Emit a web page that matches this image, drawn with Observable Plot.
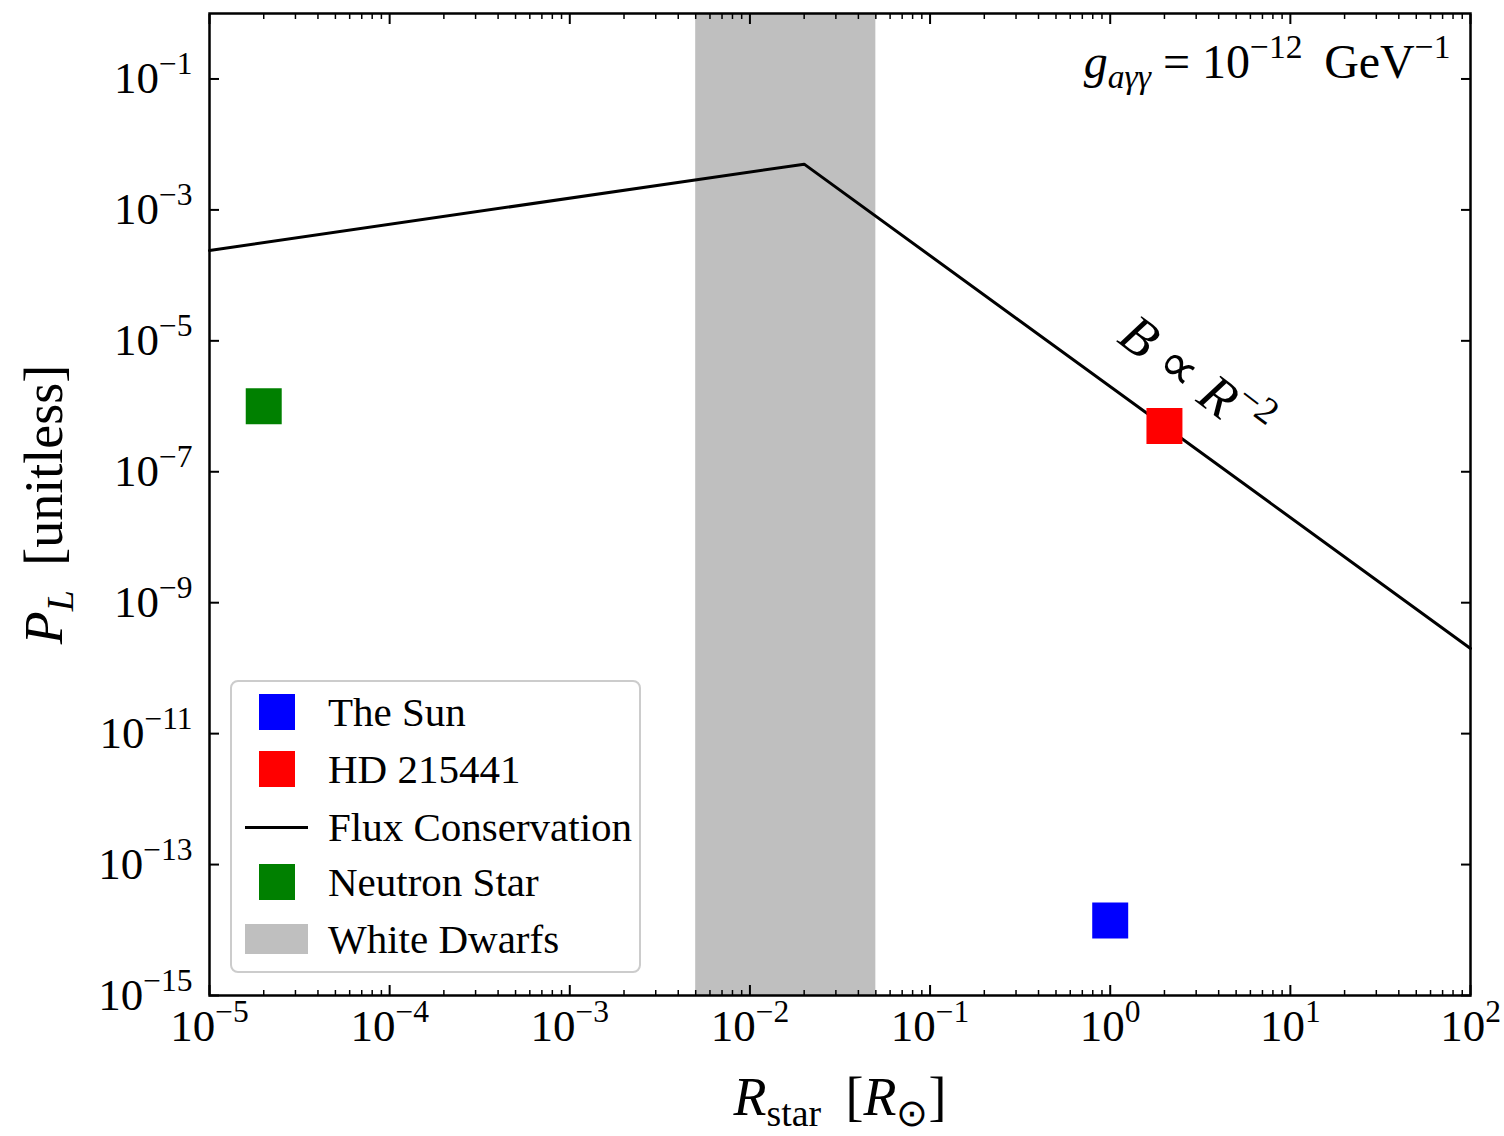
<!DOCTYPE html>
<html>
<head>
<meta charset="utf-8">
<script src="https://cdn.jsdelivr.net/npm/d3@7"></script>
<script src="https://cdn.jsdelivr.net/npm/@observablehq/plot@0.6"></script>
<style>
  body { margin: 0; background: #fff; }
  #wrap { position: relative; width: 1504px; height: 1136px; font-family: "Liberation Serif", serif; }
  #legend { position: absolute; left: 230px; top: 680px; width: 411px; height: 293px; box-sizing: border-box;
            border: 2px solid #cccccc; border-radius: 8px; background: rgba(255,255,255,0.85); }
  .row { position: absolute; left: 0; height: 40px; display: flex; align-items: center; }
  .handle { width: 63px; margin-left: 13px; display: flex; align-items: center; justify-content: center; }
  .lab { margin-left: 20px; font-size: 41px; color: #000; white-space: nowrap; line-height: 1; }
</style>
</head>
<body>
<div id="wrap"></div>
<script>
// ---- data ----
const fluxR = [1e-5, 0.02, 100];
const fluxP = [2.4e-4, 5e-3, 2e-10];
const starNames = ["The Sun", "HD 215441", "Neutron Star"];
const starR = [1, 2, 2e-5];
const starP = [1.4e-14, 5e-7, 1e-6];
const starColors = ["#0000ff", "#ff0000", "#008000"];
const wdRange = [0.005, 0.05];
const wdColor = "#bfbfbf";
const legendNames = ["The Sun", "HD 215441", "Flux Conservation", "Neutron Star", "White Dwarfs"];
const legendKinds = ["square", "square", "line", "square", "band"];
const legendColors = ["#0000ff", "#ff0000", "#000000", "#008000", "#bfbfbf"];
const xMajorExp = [-5, -4, -3, -2, -1, 0, 1, 2];
const yMajorExp = [-1, -3, -5, -7, -9, -11, -13, -15];
const annotR = [2.95];
const annotP = [2.6e-6];

const xMajor = xMajorExp.map(k => 10 ** k);
const xMinor = [];
for (const k of xMajorExp.slice(0, -1)) for (let m = 2; m <= 9; m++) xMinor.push(m * 10 ** k);
const yMajor = yMajorExp.map(k => 10 ** k);
const expo = d => String(Math.round(Math.log10(d)));

const flux = fluxR.map((r, i) => ({r, p: fluxP[i]}));
const stars = starR.map((r, i) => ({r, p: starP[i], c: starColors[i], name: starNames[i]}));

const FS = 45;
const noF = () => "";

const plot = Plot.plot({
  width: 1504, height: 1136,
  marginLeft: 209, marginRight: 34, marginTop: 13, marginBottom: 141,
  style: {fontFamily: "Liberation Serif, serif", background: "#fff", color: "#000"},
  x: {type: "log", domain: [1e-5, 100]},
  y: {type: "log", domain: [1e-15, 1]},
  color: {type: "identity"},
  marks: [
    Plot.rect([wdRange], {x1: d => d[0], x2: d => d[1], fill: wdColor}),
    Plot.line(flux, {x: "r", y: "p", stroke: "#000", strokeWidth: 3}),
    Plot.dot(stars, {x: "r", y: "p", fill: "c", symbol: "square", r: 20.3}),
    Plot.frame({stroke: "#000", strokeWidth: 2.5}),
    Plot.axisX(xMajor, {anchor: "bottom", tickSize: -10, tickFormat: noF, strokeWidth: 2, label: null}),
    Plot.axisX(xMinor, {anchor: "bottom", tickSize: -5, tickFormat: noF, strokeWidth: 1.5, label: null}),
    Plot.axisX(xMajor, {anchor: "top", tickSize: -10, tickFormat: noF, strokeWidth: 2, label: null}),
    Plot.axisX(xMinor, {anchor: "top", tickSize: -5, tickFormat: noF, strokeWidth: 1.5, label: null}),
    Plot.axisY(yMajor, {anchor: "left", tickSize: -10, tickFormat: noF, strokeWidth: 2, label: null}),
    Plot.axisY(yMajor, {anchor: "right", tickSize: -10, tickFormat: noF, strokeWidth: 2, label: null}),
    Plot.axisX(xMajor, {anchor: "bottom", tickSize: 0, tickPadding: 14, tickFormat: expo, fontSize: FS, label: null}),
    Plot.axisY(yMajor, {anchor: "left", tickSize: 0, tickPadding: 17, tickFormat: expo, fontSize: FS, label: null}),
    Plot.text(["@xlabel"], {frameAnchor: "bottom", dy: 102, text: d => d, fontSize: 54, lineAnchor: "middle", textAnchor: "middle"}),
    Plot.text(["@ylabel"], {frameAnchor: "left", dx: -165, rotate: -90, text: d => d, fontSize: 54, lineAnchor: "middle", textAnchor: "middle"}),
    Plot.text(["@glabel"], {frameAnchor: "top-right", dx: -20, dy: 30, textAnchor: "end", lineAnchor: "top", text: d => d, fontSize: 48}),
    Plot.text(["@annot"], {x: () => annotR[0], y: () => annotP[0], rotate: 37, text: d => d, fontSize: 54, textAnchor: "middle"})
  ]
});

const NS = "http://www.w3.org/2000/svg";
function rich(el, parts, fs) {
  el.textContent = "";
  for (const p of parts) {
    const t = document.createElementNS(NS, "tspan");
    t.textContent = p.t;
    if (p.i) t.setAttribute("font-style", "italic");
    if (p.sup) { t.setAttribute("font-size", (fs * 0.7) + "px"); t.setAttribute("baseline-shift", (fs * 0.42) + "px"); }
    if (p.sub) { t.setAttribute("font-size", (fs * 0.7) + "px"); t.setAttribute("baseline-shift", (-fs * 0.2) + "px"); }
    el.appendChild(t);
  }
}
const svg = d3.select(plot);
svg.selectAll('[aria-label="x-axis tick label"] text, [aria-label="y-axis tick label"] text').each(function () {
  const s = this.textContent;
  if (!s) return;
  rich(this, [{t: "10"}, {t: s.replace("-", "\u2212"), sup: true}], FS);
});
const richSpecs = {
  "@xlabel": [[{t: "R", i: true}, {t: "star", sub: true}, {t: " \u2009["}, {t: "R", i: true}, {t: "\u2299", sub: true}, {t: "]"}], 54],
  "@ylabel": [[{t: "P", i: true}, {t: "L", i: true, sub: true}, {t: " \u2009[unitless]"}], 54],
  "@glabel": [[{t: "g", i: true}, {t: "a\u03b3\u03b3", i: true, sub: true}, {t: " = 10"}, {t: "\u221212", sup: true}, {t: " \u2009GeV"}, {t: "\u22121", sup: true}], 48],
  "@annot": [[{t: "B", i: true}, {t: " \u221d "}, {t: "R", i: true}, {t: "\u22122", sup: true}], 54]
};
svg.selectAll("text").each(function () {
  const spec = richSpecs[this.textContent];
  if (spec) rich(this, spec[0], spec[1]);
});

const wrap = document.getElementById("wrap");
wrap.appendChild(plot);

// legend
const leg = document.createElement("div");
leg.id = "legend";
const rowTops = [10, 67, 125, 180, 237];
legendNames.forEach((name, i) => {
  const row = document.createElement("div");
  row.className = "row";
  row.style.top = rowTops[i] + "px";
  const h = document.createElement("div");
  h.className = "handle";
  const sw = document.createElement("div");
  if (legendKinds[i] === "square") { sw.style.width = "36px"; sw.style.height = "36px"; }
  else if (legendKinds[i] === "line") { sw.style.width = "63px"; sw.style.height = "3px"; }
  else { sw.style.width = "63px"; sw.style.height = "30px"; }
  sw.style.background = legendColors[i];
  h.appendChild(sw);
  const l = document.createElement("div");
  l.className = "lab";
  l.textContent = name;
  row.appendChild(h); row.appendChild(l);
  leg.appendChild(row);
});
wrap.appendChild(leg);
</script>
</body>
</html>
